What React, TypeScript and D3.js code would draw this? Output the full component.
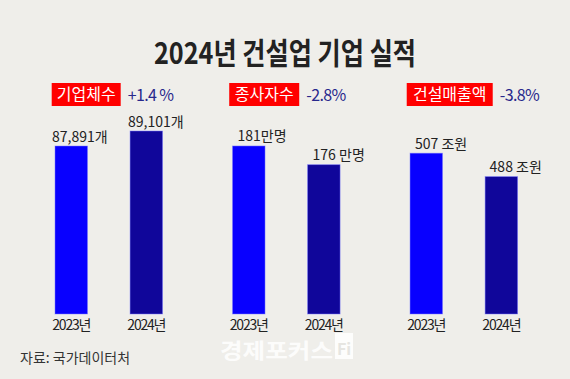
import React from "react";
import * as d3 from "d3";

const W = 570;
const H = 379;

// Data
const metrics = ["기업체수", "종사자수", "건설매출액"];
const years = ["2023년", "2024년"];
const values2023 = [87891, 181, 507];
const values2024 = [89101, 176, 488];
const valueLabels2023 = ["87,891개", "181만명", "507 조원"];
const valueLabels2024 = ["89,101개", "176 만명", "488 조원"];
const changeLabels = ["+1.4 %", "-2.8%", "-3.8%"];
// per-metric value axis (not zero based)
const axisMin = [74340, 136.1, 376.5];
const axisMax = [89101, 185, 525];

const title = "2024년 건설업 기업 실적";
const source = "자료: 국가데이터처";
const watermark = "경제포커스";

const FONT = "'Noto Sans CJK KR', 'Noto Sans', sans-serif";
const BG = "#efeeea";
const C23 = "#0800ff";
const C24 = "#10069a";
const RED = "#ff0000";
const PCT = "#28288c";

export default function App() {
  const baseY = 314;
  const topY = 131;
  const outer = d3
    .scaleBand<string>()
    .domain(metrics)
    .range([55, 517.6])
    .paddingInner(0.394)
    .paddingOuter(0);
  const inner = d3
    .scaleBand<string>()
    .domain(years)
    .range([0, outer.bandwidth()])
    .paddingInner(0.567)
    .paddingOuter(0);

  const labelDx = [
    [-3, -2],
    [5, 5],
    [5, 4.5],
  ];
  const boxW = [69, 70, 86];

  return (
    <svg
      width={W}
      height={H}
      style={{ position: "fixed", left: 0, top: 0, display: "block" }}
      fontFamily={FONT}
    >
      <rect x={0} y={0} width={W} height={H} fill={BG} />
      <text
        x={W / 2}
        y={64}
        textAnchor="middle"
        fontSize={30}
        fontWeight={700}
        fill="#222"
        textLength={262}
        lengthAdjust="spacingAndGlyphs"
      >
        {title}
      </text>

      {metrics.map((m, i) => {
        const y = d3
          .scaleLinear()
          .domain([axisMin[i], axisMax[i]])
          .range([baseY, topY]);
        const gx = outer(m) ?? 0;
        const vals = [values2023[i], values2024[i]];
        const labs = [valueLabels2023[i], valueLabels2024[i]];
        const boxX = gx - 3.3;
        return (
          <g key={m}>
            <rect x={boxX} y={83} width={boxW[i]} height={23} fill={RED} />
            <text
              x={boxX + boxW[i] / 2}
              y={100}
              textAnchor="middle"
              fontSize={16}
              fill="#fff"
            >
              {m}
            </text>
            <text x={boxX + boxW[i] + 7} y={100.5} fontSize={16} fill={PCT} letterSpacing={-0.6}>
              {changeLabels[i]}
            </text>
            {years.map((yr, j) => {
              const bx = gx + (inner(yr) ?? 0);
              const bw = inner.bandwidth();
              const by = y(vals[j]);
              return (
                <g key={yr}>
                  <rect
                    x={bx}
                    y={by}
                    width={bw}
                    height={baseY - by}
                    fill={j === 0 ? C23 : C24}
                    stroke="#7a7aff"
                    strokeOpacity={0.6}
                    strokeWidth={0.8}
                  />
                  <text
                    x={bx + labelDx[i][j]}
                    y={by - 4.5}
                    fontSize={14}
                    fill="#222"
                  >
                    {labs[j]}
                  </text>
                  <text
                    x={bx + bw / 2}
                    y={329.5}
                    textAnchor="middle"
                    fontSize={14}
                    letterSpacing={-1.2}
                    fill="#222"
                  >
                    {yr}
                  </text>
                </g>
              );
            })}
          </g>
        );
      })}

      <text x={20} y={363} fontSize={14} fill="#333">
        {source}
      </text>
      <text
        x={220}
        y={358}
        fontSize={21}
        fontWeight={700}
        fill="#ffffff"
        fillOpacity={0.85}
        textLength={113}
        lengthAdjust="spacingAndGlyphs"
      >
        {watermark}
      </text>
      <rect x={335} y={333} width={18} height={26} fill="#fff" fillOpacity={0.85} />
      <text x={337} y={355} fontSize={16} fontWeight={700} fill="#e6e5e1">
        Fi
      </text>
    </svg>
  );
}
